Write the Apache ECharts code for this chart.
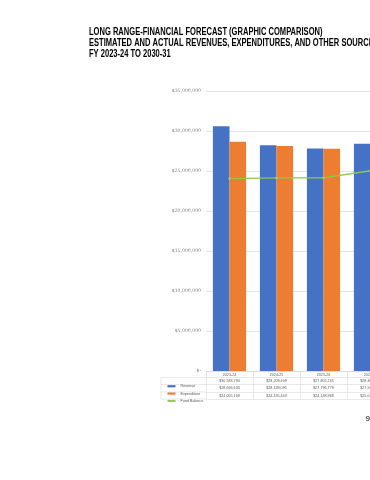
<!DOCTYPE html>
<html>
<head>
<meta charset="utf-8">
<script src="https://cdn.jsdelivr.net/npm/echarts@6/dist/echarts.min.js"></script>
<style>
html,body{margin:0;padding:0;background:#fff;overflow:hidden;width:370px;height:480px;}
#chart{width:400px;height:480px;}
</style>
</head>
<body>
<div id="chart"></div>
<script>
var titleLines = [
  'LONG RANGE-FINANCIAL FORECAST (GRAPHIC COMPARISON)',
  'ESTIMATED AND ACTUAL REVENUES, EXPENDITURES, AND OTHER SOURCES',
  'FY 2023-24 TO 2030-31'
];
var categories = ['2023-24', '2024-25', '2025-26', '2026-27'];
var revenue = [30583794, 28209409, 27802265, 28400000];
var expenditure = [28666633, 28139095, 27796779, 27500000];
var fundBalance = [24055169, 24135403, 24148969, 25030000];
var yTicks = [0, 5000000, 10000000, 15000000, 20000000, 25000000, 30000000, 35000000];
var pageNumber = '9';

function money(v) {
  if (v === 0) return '$-';
  return '$' + Math.round(v).toLocaleString('en-US');
}

var chart = echarts.init(document.getElementById('chart'), null, {renderer: 'canvas'});
var lineColor = '#d9d9d9';
var labelColor = '#7f7f7f';
var tableFont = 3.7;
var tableFamily = 'Liberation Sans, sans-serif';

function rowAxis(offset, arr, showTick) {
  return {
    type: 'category',
    position: 'bottom',
    gridIndex: 0,
    offset: offset,
    data: categories,
    axisLine: {show: true, lineStyle: {color: lineColor, width: 0.6}},
    axisTick: {show: !!showTick, length: 28, lineStyle: {color: lineColor, width: 0.6}},
    axisLabel: {
      show: !!arr,
      margin: 3.6,
      verticalAlign: 'middle',
      fontSize: tableFont,
      fontFamily: tableFamily,
      color: '#595959',
      interval: 0,
      formatter: function (v, i) { return arr ? (arr === categories ? v : money(arr[i])) : ''; }
    },
    splitLine: {show: false}
  };
}

var option = {
  animation: false,
  backgroundColor: '#fff',
  grid: {left: 206, top: 91, width: 188, height: 280, containLabel: false},
  legend: {
    orient: 'vertical',
    left: 161.5,
    top: 377.6,
    itemGap: 0,
    itemWidth: 8,
    itemHeight: 2.2,
    textStyle: {fontSize: tableFont, fontFamily: tableFamily, color: '#595959', lineHeight: 7.3},
    data: [
      {name: 'Revenue', icon: 'rect'},
      {name: 'Expenditure', icon: 'rect'},
      {name: 'Fund Balance'}
    ]
  },
  xAxis: [
    rowAxis(0, categories, true),
    rowAxis(6.6, revenue),
    rowAxis(13.6, expenditure),
    rowAxis(21, fundBalance),
    rowAxis(28, null)
  ],
  yAxis: {
    type: 'value',
    min: 0,
    max: 35000000,
    interval: 5000000,
    axisLine: {show: false},
    axisTick: {show: false},
    axisLabel: {
      margin: 5,
      fontSize: 4.6,
      fontFamily: 'DejaVu Serif, serif',
      color: labelColor,
      formatter: function (v) { return yTicks.indexOf(v) >= 0 ? money(v) : ''; }
    },
    splitLine: {lineStyle: {color: lineColor, width: 0.7}}
  },
  series: [
    {
      name: 'Revenue', type: 'bar', xAxisIndex: 0, data: revenue,
      barWidth: 16.6, barGap: '0%',
      itemStyle: {color: '#4472c4'}
    },
    {
      name: 'Expenditure', type: 'bar', xAxisIndex: 0, data: expenditure,
      barWidth: 16.6, barGap: '0%',
      itemStyle: {color: '#ed7d31'}
    },
    {
      name: 'Fund Balance', type: 'line', xAxisIndex: 0, data: fundBalance,
      symbol: 'circle', symbolSize: 2.5, z: 5,
      lineStyle: {color: '#8fc64c', width: 1.3},
      itemStyle: {color: '#a6c67e'}
    }
  ],
  graphic: [
    {type: 'text', x: 89, y: 27, scaleX: 0.755,
      style: {text: titleLines.join('\n'), fontSize: 10, fontWeight: 'bold', lineHeight: 11,
        fontFamily: 'Liberation Sans, sans-serif', fill: '#000', verticalAlign: 'top', align: 'left'}},
    {type: 'line', shape: {x1: 161, y1: 377.6, x2: 206, y2: 377.6}, style: {stroke: lineColor, lineWidth: 0.6}},
    {type: 'line', shape: {x1: 161, y1: 384.6, x2: 206, y2: 384.6}, style: {stroke: lineColor, lineWidth: 0.6}},
    {type: 'line', shape: {x1: 161, y1: 392, x2: 206, y2: 392}, style: {stroke: lineColor, lineWidth: 0.6}},
    {type: 'line', shape: {x1: 161, y1: 399, x2: 206, y2: 399}, style: {stroke: lineColor, lineWidth: 0.6}},
    {type: 'line', shape: {x1: 161, y1: 377.6, x2: 161, y2: 399}, style: {stroke: lineColor, lineWidth: 0.6}},
    {type: 'text', x: 365.5, y: 414.5, style: {text: pageNumber, fontSize: 8, fontFamily: 'Liberation Sans, sans-serif', fill: '#000', verticalAlign: 'top'}}
  ]
};
chart.setOption(option);
</script>
</body>
</html>
